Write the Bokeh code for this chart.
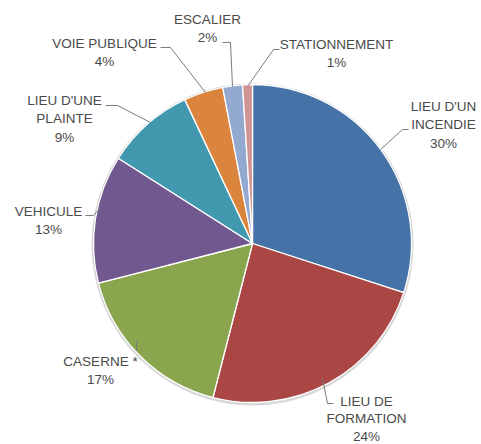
import math
from bokeh.plotting import figure
from bokeh.models import Range1d, ColumnDataSource
from bokeh.core.properties import value
from bokeh.embed import file_html
from bokeh.resources import INLINE

# ---- data ----
categories = ["LIEU D'UN\nINCENDIE", "LIEU DE\nFORMATION", "CASERNE *", "VEHICULE",
              "LIEU D'UNE\nPLAINTE", "VOIE PUBLIQUE", "ESCALIER", "STATIONNEMENT"]
values = [30, 24, 17, 13, 9, 4, 2, 1]
colors = ["#4572A7", "#AA4643", "#89A54E", "#71588F", "#4198AF", "#DB843D", "#93A9CF", "#D19392"]

# ---- layout (pixel coords of the picture, y downwards) ----
W, H = 481, 444
def Y(v):
    return H - v

cx, cy, R = 252, 243, 159
label_pos = [(443, 106), (366, 401), (100, 361), (48, 211), (64, 100), (104, 43), (207, 19), (336, 44)]
line_hs = [18.3, 17.3, 18.3, 18.3, 18.3, 18.3, 18.3, 18.3]
leaders = [
    [(380, 149), (402, 129), (408, 129)],
    [(322, 378), (327, 403), (333, 403)],
    [(136, 341), (136, 350)],
    [(85, 215), (93, 215), (99, 208)],
    [(105, 105), (117, 105), (150, 122)],
    [(160, 47), (170, 47), (205, 92)],
    [(232, 86), (230, 42), (222, 42)],
    [(247, 86), (273, 49), (279, 49)],
]

p = figure(width=W, height=H, x_range=Range1d(0, W), y_range=Range1d(0, H),
           output_backend="svg", toolbar_location=None, min_border=0,
           x_axis_location=None, y_axis_location=None)
p.grid.visible = False
p.outline_line_color = None
p.background_fill_color = "white"

total = sum(values)
starts, ends = [], []
acc = 0.0
for v in values:
    starts.append(math.pi / 2 - 2 * math.pi * acc / total)
    acc += v
    ends.append(math.pi / 2 - 2 * math.pi * acc / total)

# soft shadow / outline
p.circle(x=[cx], y=[Y(cy) - 1], radius=R + 2, fill_color="#d8d8d8", line_color=None)
p.circle(x=[cx], y=[Y(cy)], radius=R + 0.8, fill_color="#c2c2c2", line_color=None)

src = ColumnDataSource(dict(x=[cx] * len(values), y=[Y(cy)] * len(values),
                            start=starts, end=ends, color=colors))
p.wedge(x="x", y="y", radius=R, start_angle="start", end_angle="end", direction="clock",
        fill_color="color", line_color="white", line_width=1.3, source=src)

# leader lines
p.multi_line(xs=[[pt[0] for pt in l] for l in leaders],
             ys=[[Y(pt[1]) for pt in l] for l in leaders],
             line_color="#7a7a7a", line_width=1)

# labels
tx, ty, tt = [], [], []
for cat, v, (lx, ly), lh in zip(categories, values, label_pos, line_hs):
    lines = cat.split("\n") + [f"{v}%"]
    for i, s in enumerate(lines):
        tx.append(lx)
        ty.append(Y(ly + i * lh))
        tt.append(s)
p.text(x=tx, y=ty, text=tt, text_align="center", text_baseline="middle",
       text_font=value("Liberation Sans"), text_font_size="13.5px", text_color="#4a4a4a")

open("out.html", "w").write(file_html(p, INLINE))
